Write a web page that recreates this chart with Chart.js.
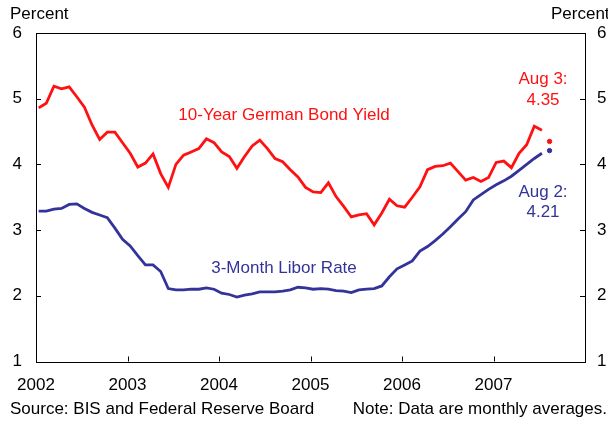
<!DOCTYPE html>
<html>
<head>
<meta charset="utf-8">
<script src="https://cdn.jsdelivr.net/npm/chart.js@4"></script>
<style>
  html, body { margin: 0; padding: 0; background: #fff; }
  #wrap { width: 608px; height: 421px; }
</style>
</head>
<body>
<div id="wrap"><canvas id="rateChart" width="608" height="421"></canvas></div>
<script>
// monthly averages, Jan 2002 .. Jul 2007
const startYear = 2002;
const germanYield = [
    4.86, 4.93, 5.19, 5.15, 5.18, 5.03, 4.87, 4.60, 4.38, 4.49, 4.49, 4.33,
    4.17, 3.96, 4.02, 4.16, 3.86, 3.65, 4.00, 4.14, 4.19, 4.24, 4.39, 4.33,
    4.19, 4.12, 3.94, 4.12, 4.28, 4.37, 4.24, 4.09, 4.04, 3.92, 3.81, 3.65,
    3.58, 3.57, 3.72, 3.51, 3.36, 3.20, 3.23, 3.25, 3.08, 3.26, 3.47, 3.37,
    3.35, 3.50, 3.66, 3.92, 3.97, 3.98, 4.02, 3.89, 3.76, 3.80, 3.74, 3.80,
    4.03, 4.05, 3.95, 4.17, 4.30, 4.58, 4.52
];
const liborRate = [
    3.29, 3.29, 3.32, 3.33, 3.39, 3.40, 3.33, 3.27, 3.23, 3.19, 3.03, 2.86,
    2.76, 2.61, 2.47, 2.47, 2.37, 2.11, 2.09, 2.09, 2.10, 2.10, 2.12, 2.10,
    2.04, 2.02, 1.98, 2.01, 2.03, 2.06, 2.06, 2.06, 2.07, 2.09, 2.13, 2.12,
    2.10, 2.11, 2.10, 2.08, 2.07, 2.05, 2.09, 2.10, 2.11, 2.15, 2.29, 2.41,
    2.47, 2.53, 2.68, 2.75, 2.84, 2.94, 3.05, 3.17, 3.28, 3.46, 3.54, 3.62,
    3.69, 3.75, 3.82, 3.91, 4.00, 4.09, 4.17
];
// latest daily readings (month index 67 = Aug 2007)
const latestMonth = 67;
const germanLatest = 4.35;
const liborLatest = 4.21;
const yearTicks = [2002, 2003, 2004, 2005, 2006, 2007];
const yTicks = [1, 2, 3, 4, 5, 6];

const RED = '#ff1111';
const BLUE = '#333399';
const FONT = 'Liberation Sans, Arial, sans-serif';

function monthX(i) {
    return startYear + (i + 0.35) / 12;
}
const germanPts = germanYield.map((v, i) => ({ x: monthX(i), y: v }));
const liborPts = liborRate.map((v, i) => ({ x: monthX(i), y: v }));

const framePlugin = {
    id: 'frame',
    afterDraw(chart) {
        const ctx = chart.ctx;
        const a = chart.chartArea;
        const xs = chart.scales.x, ys = chart.scales.y;
        ctx.save();
        ctx.strokeStyle = '#000';
        ctx.lineWidth = 1;
        ctx.strokeRect(Math.round(a.left) + 0.5, Math.round(a.top) + 0.5,
            Math.round(a.right - a.left), Math.round(a.bottom - a.top));
        ctx.beginPath();
        yTicks.forEach(t => {
            const py = Math.round(ys.getPixelForValue(t)) + 0.5;
            ctx.moveTo(a.left, py); ctx.lineTo(a.left + 5, py);
            ctx.moveTo(a.right - 5, py); ctx.lineTo(a.right, py);
        });
        yearTicks.forEach(t => {
            const px = Math.round(xs.getPixelForValue(t)) + 0.5;
            ctx.moveTo(px, a.bottom); ctx.lineTo(px, a.bottom - 5);
        });
        ctx.stroke();

        ctx.font = '17px ' + FONT;
        ctx.textBaseline = 'middle';
        ctx.fillStyle = '#000';
        ctx.textAlign = 'left';
        ctx.fillText('Percent', 10, 14);
        ctx.fillText('Percent', 551, 14);
        ctx.fillText('Source: BIS and Federal Reserve Board', 10, 409);
        ctx.textAlign = 'right';
        ctx.fillText('Note: Data are monthly averages.', 607, 409);

        ctx.textAlign = 'center';
        ctx.fillStyle = RED;
        ctx.fillText('10-Year German Bond Yield', 284, 115);
        ctx.fillText('Aug 3:', 543, 79);
        ctx.fillText('4.35', 543, 100);
        ctx.fillStyle = BLUE;
        ctx.fillText('3-Month Libor Rate', 284, 268);
        ctx.fillText('Aug 2:', 543, 192);
        ctx.fillText('4.21', 543, 212);
        ctx.restore();
    }
};

new Chart(document.getElementById('rateChart').getContext('2d'), {
    type: 'line',
    data: {
        datasets: [{
            label: '10-Year German Bond Yield',
            data: germanPts,
            borderColor: RED,
            borderWidth: 2.8,
            pointRadius: 0,
            tension: 0,
            yAxisID: 'y'
        }, {
            label: '3-Month Libor Rate',
            data: liborPts,
            borderColor: BLUE,
            borderWidth: 2.8,
            pointRadius: 0,
            tension: 0,
            yAxisID: 'y'
        }, {
            label: 'German latest',
            data: [{ x: monthX(latestMonth), y: germanLatest }],
            showLine: false,
            pointRadius: 2.2,
            pointBackgroundColor: RED,
            pointBorderColor: RED,
            yAxisID: 'y'
        }, {
            label: 'Libor latest',
            data: [{ x: monthX(latestMonth), y: liborLatest }],
            showLine: false,
            pointRadius: 2.2,
            pointBackgroundColor: BLUE,
            pointBorderColor: BLUE,
            yAxisID: 'y'
        }]
    },
    options: {
        responsive: false,
        animation: false,
        layout: { padding: { top: 33, left: 0, right: 0, bottom: 0 } },
        plugins: {
            legend: { display: false },
            tooltip: { enabled: false }
        },
        scales: {
            x: {
                type: 'linear',
                min: 2002,
                max: 2008,
                afterFit: s => { s.height = 59.5; },
                afterBuildTicks: s => { s.ticks = yearTicks.concat([2008]).map(v => ({ value: v })); },
                grid: { display: false, drawTicks: false },
                border: { display: false },
                ticks: {
                    padding: 14,
                    color: '#000',
                    font: { size: 17, family: FONT },
                    maxRotation: 0,
                    callback: v => (v < 2008 ? String(v) : '')
                }
            },
            y: {
                position: 'left',
                min: 1,
                max: 6,
                afterFit: s => { s.width = 36; },
                grid: { display: false, drawTicks: false },
                border: { display: false },
                ticks: { stepSize: 1, padding: 14, color: '#000', font: { size: 17, family: FONT } }
            },
            y2: {
                position: 'right',
                min: 1,
                max: 6,
                afterFit: s => { s.width = 23; },
                grid: { display: false, drawTicks: false },
                border: { display: false },
                ticks: { stepSize: 1, padding: 12, color: '#000', font: { size: 17, family: FONT } }
            }
        }
    },
    plugins: [framePlugin]
});
</script>
</body>
</html>
